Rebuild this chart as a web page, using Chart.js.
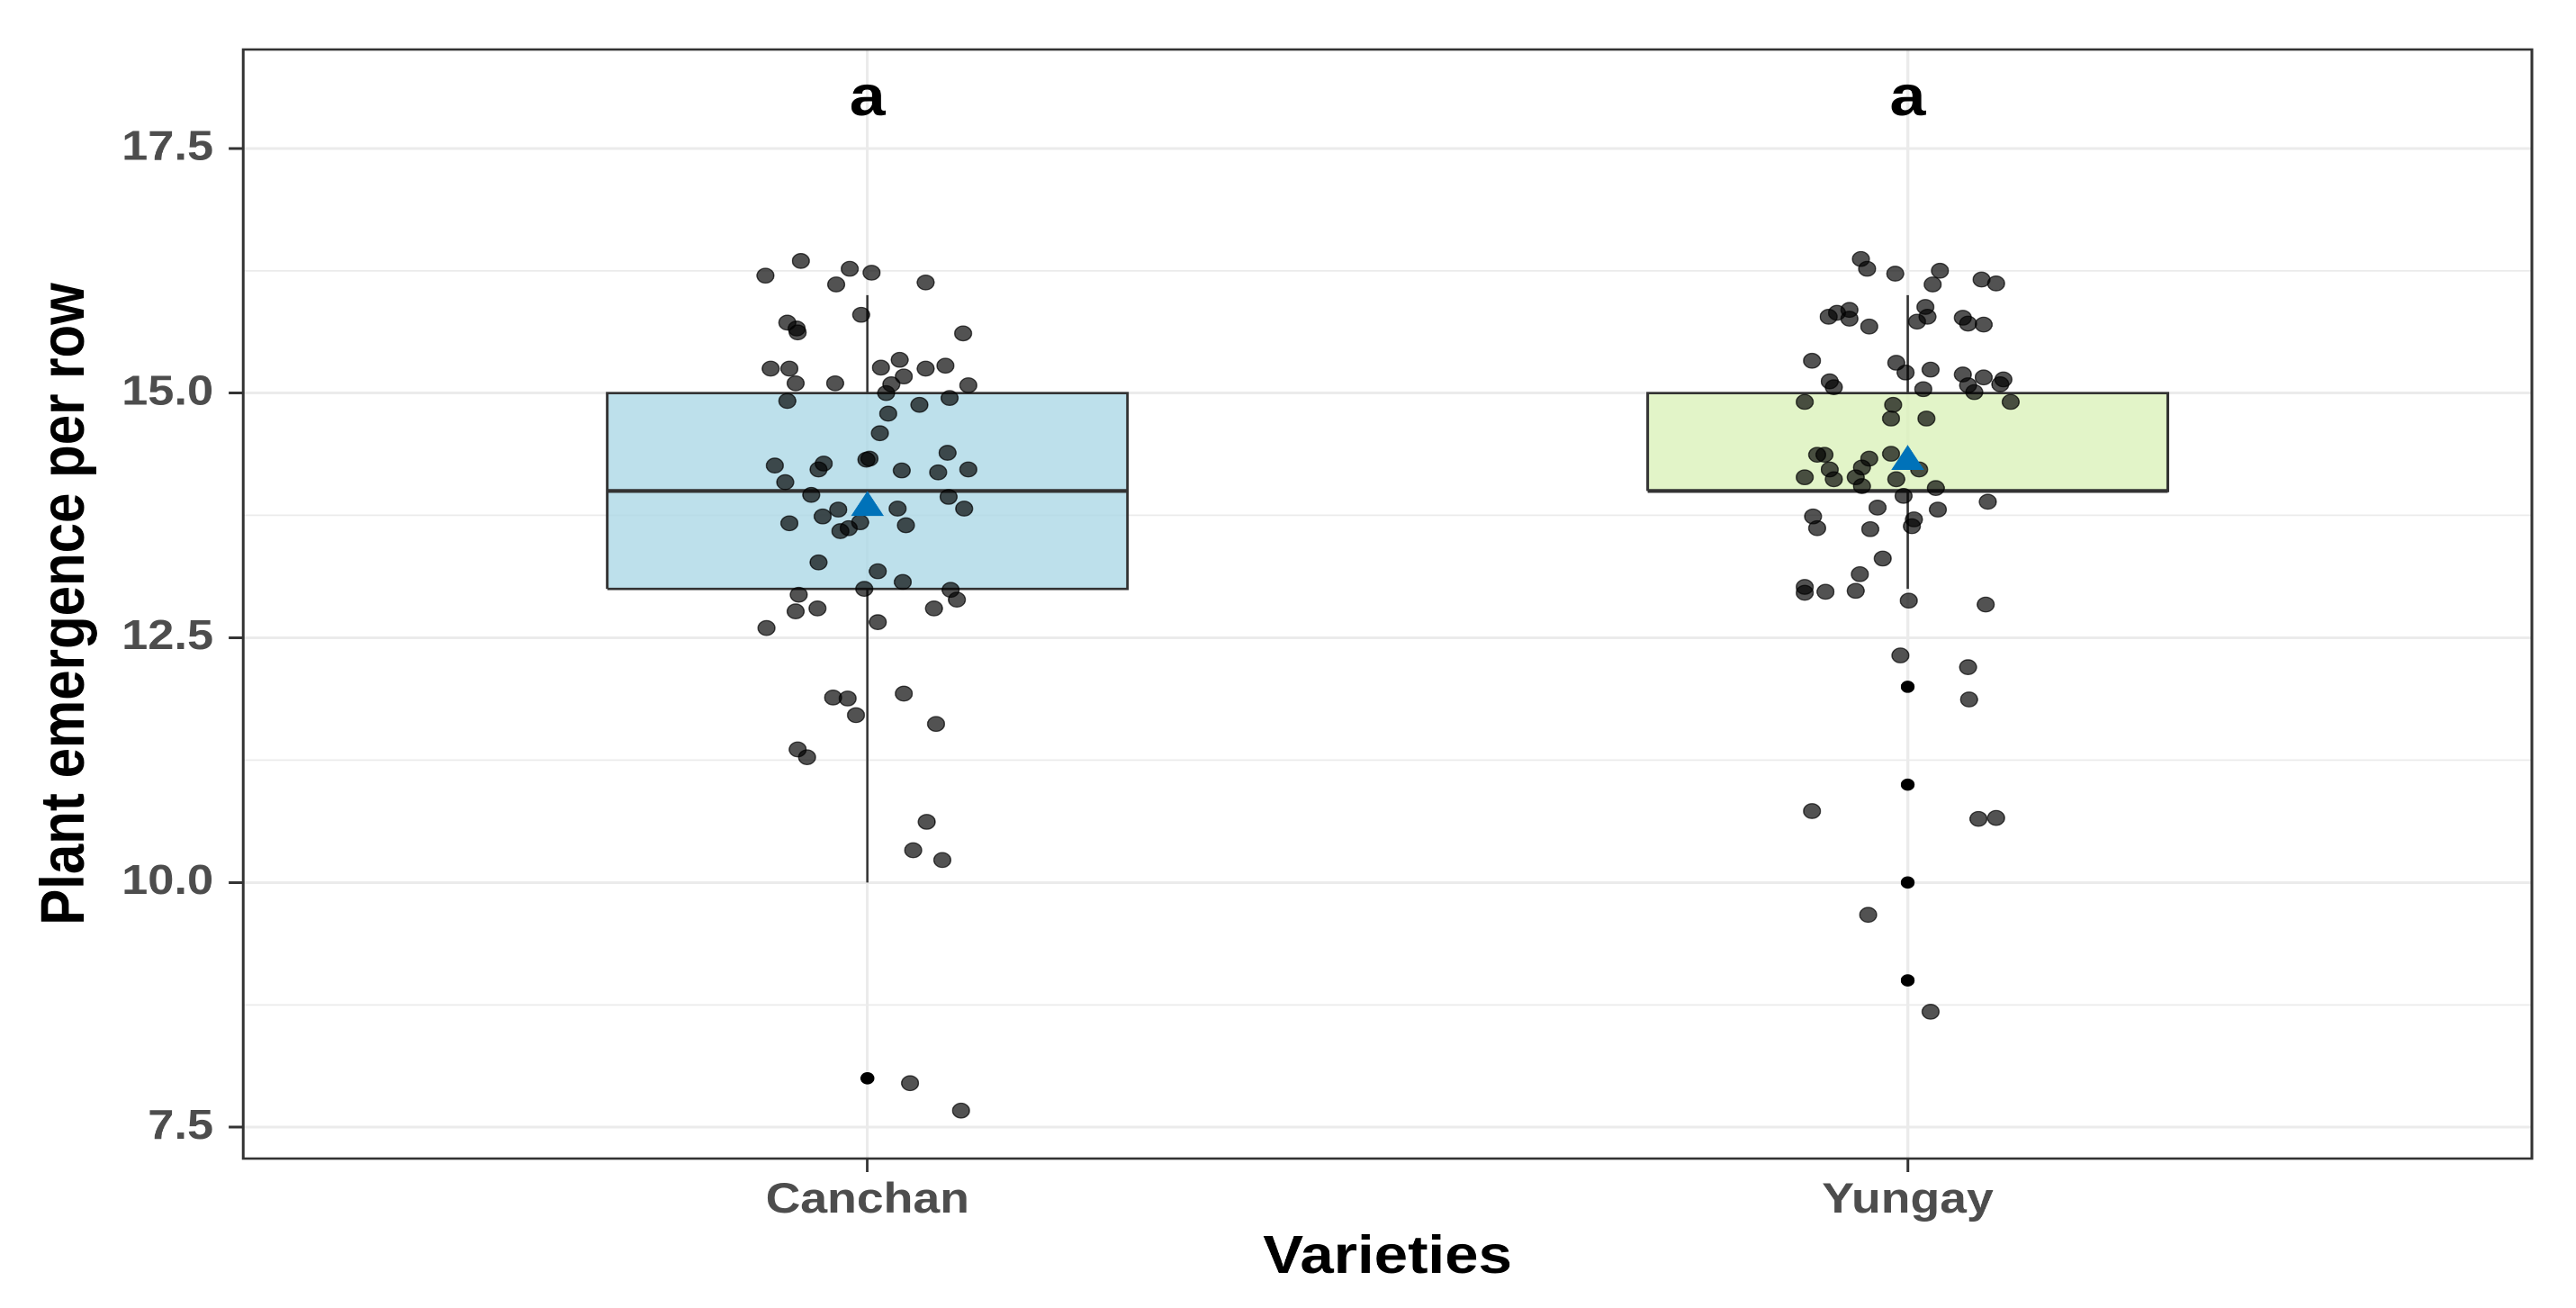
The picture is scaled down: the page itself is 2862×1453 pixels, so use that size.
<!DOCTYPE html>
<html>
<head>
<meta charset="utf-8">
<script src="https://cdn.jsdelivr.net/npm/chart.js@4.4.1/dist/chart.umd.min.js"></script>
<style>
  html, body { margin: 0; padding: 0; background: #fff; overflow: hidden; }
</style>
</head>
<body>
<!-- drawn 2510 wide and stretched to 2862, the reference is stretched the same way -->
<canvas id="chart" width="2510" height="1453" style="display:block;width:2862px;height:1453px"></canvas>
<script>
// categories and box statistics
const categories = ['Canchan', 'Yungay'];
const q1 = [13, 14];
const medians = [14, 14];
const q3 = [15, 15];
const whiskerLow = [10, 13];
const whiskerHigh = [16, 16];
const means = [13.83, 14.30];
const canchanOutliers = [8];
const yungayOutliers = [12, 11, 10, 9];
const letters = ['a', 'a'];
const letterY = [18, 18];
const yMajorTicks = [7.5, 10.0, 12.5, 15.0, 17.5];
const yMinorTicks = [8.75, 11.25, 13.75, 16.25];

// jittered observations (value, horizontal jitter in category units)
const canchanValues = [16.35, 16.20, 16.27, 16.23, 16.11, 16.13, 15.80, 15.72, 15.66, 15.62,
  15.61, 15.25, 15.25, 15.10, 15.10, 15.26, 15.34, 15.17, 15.09, 15.25,
  15.28, 15.08, 15.00, 14.92, 14.95, 14.88, 14.79, 14.59, 14.39, 14.32,
  14.33, 14.26, 14.28, 14.22, 14.21, 14.19, 14.22, 14.09, 13.96, 13.94,
  13.82, 13.82, 13.81, 13.74, 13.67, 13.68, 13.62, 13.59, 13.65, 13.27,
  13.18, 13.07, 13.00, 12.99, 12.89, 12.94, 12.77, 12.80, 12.80, 12.66,
  12.60, 11.89, 11.88, 11.71, 11.93, 11.62, 11.36, 11.28, 10.62, 10.33,
  10.23, 7.95, 7.67];
const canchanJitter = [-0.064, -0.098, -0.017, 0.004, -0.030, 0.056, -0.006, -0.077, -0.068, -0.067,
  0.092, -0.093, -0.075, -0.069, -0.031, 0.013, 0.031, 0.035, 0.023, 0.056,
  0.075, 0.097, 0.018, -0.077, 0.079, 0.050, 0.020, 0.012, 0.077, -0.001,
  0.002, -0.089, -0.042, -0.047, 0.033, 0.068, 0.097, -0.079, -0.054, 0.078,
  0.093, 0.029, -0.028, -0.043, -0.075, -0.007, -0.018, -0.026, 0.037, -0.047,
  0.010, 0.034, -0.003, 0.080, 0.086, -0.066, -0.069, -0.048, 0.064, 0.010,
  -0.097, -0.033, -0.019, -0.011, 0.035, 0.066, -0.067, -0.058, 0.057, 0.044,
  0.072, 0.041, 0.090];

const yungayValues = [16.37, 16.27, 16.22, 16.25, 16.11, 16.16, 16.12, 15.78, 15.82, 15.85,
  15.76, 15.68, 15.88, 15.78, 15.73, 15.77, 15.71, 15.70, 15.33, 15.31,
  15.21, 15.24, 15.19, 15.16, 15.14, 15.12, 15.06, 15.08, 15.01, 15.09,
  15.04, 14.91, 14.91, 14.88, 14.74, 14.74, 14.37, 14.37, 14.33, 14.38,
  14.22, 14.24, 14.22, 14.14, 14.12, 14.14, 14.05, 14.12, 14.03, 13.95,
  13.89, 13.83, 13.81, 13.74, 13.62, 13.61, 13.71, 13.64, 13.31, 13.15,
  13.02, 12.96, 12.97, 12.98, 12.88, 12.84, 12.32, 12.20, 11.87, 10.73,
  10.65, 10.66, 9.67, 8.68];
const yungayJitter = [-0.045, -0.039, -0.012, 0.031, 0.024, 0.071, 0.085, -0.076, -0.068, -0.056,
  -0.056, -0.037, 0.017, 0.019, 0.009, 0.053, 0.058, 0.073, -0.092, -0.011,
  -0.002, 0.022, 0.053, 0.073, 0.092, -0.075, -0.071, 0.058, 0.064, 0.089,
  0.015, -0.099, 0.099, -0.014, -0.016, 0.018, -0.087, -0.080, -0.037, -0.016,
  -0.075, -0.044, 0.011, -0.099, -0.071, -0.050, -0.044, -0.011, 0.027, -0.004,
  0.077, -0.029, 0.029, -0.091, -0.087, -0.036, 0.006, 0.004, -0.024, -0.046,
  -0.099, -0.099, -0.079, -0.050, 0.001, 0.075, -0.007, 0.058, 0.059, -0.092,
  0.068, 0.085, -0.038, 0.022];

const boxFills = ['rgba(173,216,230,0.8)', 'rgba(219,241,186,0.8)'];
const BOX_HALF = 0.25;
const FONT = '"Liberation Sans", Arial, Helvetica, sans-serif';
const DARK = '#333333';

const pointSets = [
  { values: canchanValues, jitter: canchanJitter, outliers: canchanOutliers },
  { values: yungayValues, jitter: yungayJitter, outliers: yungayOutliers },
];

const datasets = [];
categories.forEach((cat, i) => {
  const xc = i + 1;
  const bottomIndex = datasets.length;
  datasets.push({
    label: cat + ' q1', order: 10,
    data: [{ x: xc - BOX_HALF, y: q1[i] }, { x: xc + BOX_HALF, y: q1[i] }],
    borderWidth: 0, pointRadius: 0, fill: false,
  });
  datasets.push({
    label: cat + ' box', order: 9,
    data: [{ x: xc - BOX_HALF, y: q3[i] }, { x: xc + BOX_HALF, y: q3[i] }],
    borderWidth: 0, pointRadius: 0,
    fill: bottomIndex, backgroundColor: boxFills[i],
  });
  datasets.push({
    label: cat + ' outline', order: 8,
    data: [
      { x: xc - BOX_HALF, y: q1[i] }, { x: xc + BOX_HALF, y: q1[i] },
      { x: xc + BOX_HALF, y: q3[i] }, { x: xc - BOX_HALF, y: q3[i] },
      { x: xc - BOX_HALF, y: q1[i] },
    ],
    borderColor: DARK, borderWidth: 2.6, pointRadius: 0, fill: false,
  });
  datasets.push({
    label: cat + ' median', order: 7,
    data: [{ x: xc - BOX_HALF, y: medians[i] }, { x: xc + BOX_HALF, y: medians[i] }],
    borderColor: DARK, borderWidth: 4.2, pointRadius: 0, fill: false,
  });
  datasets.push({
    label: cat + ' whiskers', order: 7,
    data: [
      { x: xc, y: whiskerLow[i] }, { x: xc, y: q1[i] }, { x: xc, y: null },
      { x: xc, y: q3[i] }, { x: xc, y: whiskerHigh[i] },
    ],
    borderColor: DARK, borderWidth: 2.2, pointRadius: 0, fill: false, spanGaps: false,
  });
  datasets.push({
    label: cat + ' outliers', order: 6, showLine: false,
    data: pointSets[i].outliers.map(v => ({ x: xc, y: v })),
    pointRadius: 6.8, pointBackgroundColor: '#000', pointBorderWidth: 0,
  });
  datasets.push({
    label: cat + ' points', order: 5, showLine: false,
    data: pointSets[i].values.map((v, j) => ({ x: xc + pointSets[i].jitter[j], y: v })),
    pointRadius: 8.2,
    pointBackgroundColor: 'rgba(0,0,0,0.68)',
    pointBorderColor: 'rgba(0,0,0,0.7)',
    pointBorderWidth: 1.3,
  });
  datasets.push({
    label: cat + ' mean', order: 1, showLine: false,
    data: [{ x: xc, y: means[i] }],
    pointStyle: 'triangle', pointRadius: 18.5,
    pointBackgroundColor: '#0072B9', pointBorderWidth: 0,
  });
});

const panelPlugin = {
  id: 'panel',
  afterDatasetsDraw(chart) {
    const { ctx, chartArea: a, scales: { x, y } } = chart;
    ctx.save();
    ctx.font = 'bold 63px ' + FONT;
    ctx.fillStyle = '#000';
    ctx.textAlign = 'center';
    ctx.textBaseline = 'middle';
    letters.forEach((t, i) => {
      ctx.fillText(t, x.getPixelForValue(i + 1), y.getPixelForValue(letterY[i]));
    });
    ctx.strokeStyle = DARK;
    ctx.lineWidth = 2.6;
    ctx.strokeRect(a.left, a.top, a.right - a.left, a.bottom - a.top);
    ctx.restore();
  }
};

const isMajor = (v) => yMajorTicks.includes(v);

new Chart(document.getElementById('chart'), {
  type: 'line',
  data: { datasets: datasets },
  options: {
    responsive: false,
    devicePixelRatio: 2,
    animation: false,
    layout: { padding: { left: 0, right: 43, top: 55, bottom: 0 } },
    elements: { line: { tension: 0 } },
    plugins: { legend: { display: false }, tooltip: { enabled: false } },
    scales: {
      x: {
        type: 'linear', min: 0.4, max: 2.6, offset: false,
        afterBuildTicks: (scale) => { scale.ticks = categories.map((c, i) => ({ value: i + 1 })); },
        afterFit: (scale) => { scale.height = 166; },
        border: { display: false },
        grid: { color: '#EBEBEB', lineWidth: 3, tickColor: DARK, tickWidth: 2.6, tickLength: 15 },
        ticks: {
          autoSkip: false, maxRotation: 0, padding: 4, color: '#4D4D4D',
          font: { family: FONT, size: 47, weight: 'bold' },
          callback: (v) => categories[v - 1],
        },
        title: {
          display: true, text: 'Varieties', color: '#000',
          font: { family: FONT, size: 59, weight: 'bold' },
          padding: { top: 0, bottom: 20 },
        },
      },
      y: {
        type: 'linear', min: 7.18, max: 18.51,
        afterBuildTicks: (scale) => {
          scale.ticks = yMajorTicks.concat(yMinorTicks).sort((a, b) => a - b).map(v => ({ value: v }));
        },
        afterFit: (scale) => { scale.width = 237; },
        border: { display: false },
        grid: {
          color: '#EBEBEB',
          lineWidth: (c) => (c.tick && isMajor(c.tick.value) ? 3 : 1.7),
          tickColor: (c) => (c.tick && isMajor(c.tick.value) ? DARK : 'rgba(0,0,0,0)'),
          tickWidth: 3, tickLength: 14,
        },
        ticks: {
          autoSkip: false, padding: 15, color: '#4D4D4D',
          font: { family: FONT, size: 46, weight: 'bold' },
          callback: (v) => (isMajor(v) ? v.toFixed(1) : ''),
        },
        title: {
          display: true, text: 'Plant emergence per row', color: '#000',
          font: { family: FONT, size: 60, weight: 'bold' },
          padding: { top: 29, bottom: 0 },
        },
      },
    },
  },
  plugins: [panelPlugin],
});
</script>
</body>
</html>
